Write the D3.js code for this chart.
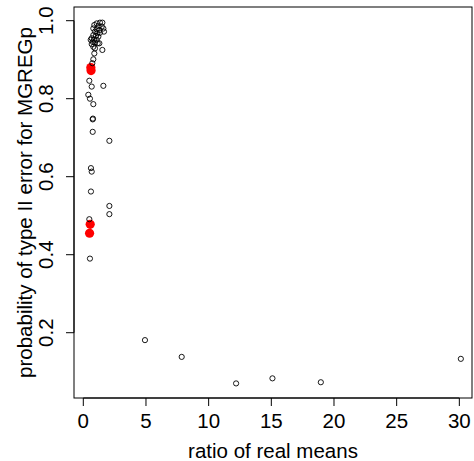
<!DOCTYPE html>
<html>
<head>
<meta charset="utf-8">
<script src="https://cdn.jsdelivr.net/npm/d3@7"></script>
<style>
  body { margin: 0; background: #fff; }
  svg text { font-family: "Liberation Sans", Arial, sans-serif; fill: #000; }
</style>
</head>
<body>
<div id="viz"></div>
<script>

// ratio of real means (x) and type II error probability (y) for each simulated case
var ratio = [1.07, 1.33, 1.52, 0.88, 1.20, 1.47, 0.80, 1.07, 1.28, 1.60,
             1.65, 0.93, 1.12, 1.33, 0.80, 1.01, 1.20, 0.67, 0.85, 1.07,
             0.75, 0.93, 1.15, 1.28, 0.59, 0.67, 0.80, 0.93, 1.52, 0.88,
             0.80, 0.72, 0.48, 0.67, 1.60, 0.40, 0.53, 0.80, 0.75, 0.77,
             0.75, 2.08, 0.61, 0.67, 0.61, 2.08, 2.08, 0.48, 0.53,
             4.92, 7.85, 12.19, 15.09, 18.95, 30.12];
var prob  = [0.993, 0.995, 0.995, 0.989, 0.986, 0.985, 0.980, 0.978, 0.976, 0.980,
             0.972, 0.972, 0.968, 0.969, 0.963, 0.961, 0.959, 0.955, 0.952, 0.951,
             0.946, 0.944, 0.942, 0.942, 0.951, 0.940, 0.933, 0.929, 0.925, 0.916,
             0.901, 0.891, 0.846, 0.831, 0.833, 0.810, 0.800, 0.786, 0.747, 0.749,
             0.715, 0.692, 0.622, 0.613, 0.562, 0.525, 0.504, 0.491, 0.390,
             0.181, 0.138, 0.070, 0.083, 0.073, 0.133];

// highlighted cases
var redRatio = [0.62, 0.60, 0.55, 0.50];
var redProb  = [0.872, 0.880, 0.478, 0.455];

var xTicks = [0, 5, 10, 15, 20, 25, 30];
var yTicks = [0.2, 0.4, 0.6, 0.8, 1.0];

var width = 474, height = 461;
var plot = {left: 74, right: 472, top: 7, bottom: 398};
var fontSize = '20.5px';

var svg = d3.select('#viz').append('svg')
	.attr('width', width)
	.attr('height', height);

var x = d3.scaleLinear().domain([-0.742, 31.01]).range([plot.left, plot.right]);
var y = d3.scaleLinear().domain([0.0326, 1.0351]).range([plot.bottom, plot.top]);

// box around the plotting region
svg.append('rect')
	.attr('x', plot.left)
	.attr('y', plot.top)
	.attr('width', plot.right - plot.left)
	.attr('height', plot.bottom - plot.top)
	.attr('fill', 'none')
	.attr('stroke', '#000')
	.attr('stroke-width', 1);

// x axis, line only spans first to last tick
var xAxis = svg.append('g')
	.attr('transform', 'translate(0,' + plot.bottom + ')');
xAxis.append('line')
	.attr('x1', x(xTicks[0])).attr('x2', x(xTicks[xTicks.length - 1]))
	.attr('y1', 0).attr('y2', 0)
	.attr('stroke', '#000');
xAxis.selectAll('.tick')
	.data(xTicks)
	.enter().append('line')
	.attr('x1', function(d) { return x(d); })
	.attr('x2', function(d) { return x(d); })
	.attr('y1', 0).attr('y2', 8)
	.attr('stroke', '#000');
xAxis.selectAll('.lab')
	.data(xTicks)
	.enter().append('text')
	.attr('x', function(d) { return x(d); })
	.attr('y', 30)
	.attr('text-anchor', 'middle')
	.style('font-size', fontSize)
	.text(function(d) { return d; });

// y axis with rotated labels
var yAxis = svg.append('g')
	.attr('transform', 'translate(' + plot.left + ',0)');
yAxis.append('line')
	.attr('y1', y(yTicks[0])).attr('y2', y(yTicks[yTicks.length - 1]))
	.attr('x1', 0).attr('x2', 0)
	.attr('stroke', '#000');
yAxis.selectAll('.tick')
	.data(yTicks)
	.enter().append('line')
	.attr('y1', function(d) { return y(d); })
	.attr('y2', function(d) { return y(d); })
	.attr('x1', 0).attr('x2', -8)
	.attr('stroke', '#000');
yAxis.selectAll('.lab')
	.data(yTicks)
	.enter().append('text')
	.attr('transform', function(d) { return 'translate(-21,' + y(d) + ') rotate(-90)'; })
	.attr('text-anchor', 'middle')
	.style('font-size', fontSize)
	.text(function(d) { return d.toFixed(1); });

// axis titles
svg.append('text')
	.attr('x', (plot.left + plot.right) / 2)
	.attr('y', 458)
	.attr('text-anchor', 'middle')
	.style('font-size', fontSize)
	.text('ratio of real means');

svg.append('text')
	.attr('transform', 'translate(32,' + ((plot.top + plot.bottom) / 2) + ') rotate(-90)')
	.attr('text-anchor', 'middle')
	.style('font-size', fontSize)
	.text('probability of type II error for MGREGp');

// highlighted points underneath
svg.selectAll('.red')
	.data(redRatio)
	.enter().append('circle')
	.attr('class', 'red')
	.attr('cx', function(d) { return x(d); })
	.attr('cy', function(d, i) { return y(redProb[i]); })
	.attr('r', 4.6)
	.attr('fill', '#ff0000');

// open circles
svg.selectAll('.point')
	.data(ratio)
	.enter().append('circle')
	.attr('class', 'point')
	.attr('cx', function(d) { return x(d); })
	.attr('cy', function(d, i) { return y(prob[i]); })
	.attr('r', 2.6)
	.attr('fill', 'none')
	.attr('stroke', '#000')
	.attr('stroke-width', 0.9);

</script>
</body>
</html>
